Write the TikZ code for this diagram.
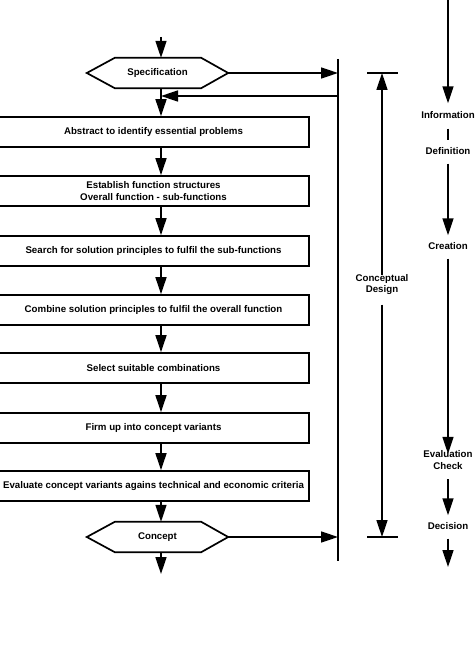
\documentclass[tikz,border=0pt]{standalone}
\usepackage{fontspec}
\setmainfont{Liberation Sans}
\usetikzlibrary{arrows.meta}
\begin{document}
\begin{tikzpicture}[x=1pt,y=-1pt,
  every node/.style={font=\fontsize{9.7}{11.5}\selectfont\bfseries},
  ln/.style={line width=1.6pt},
  arr/.style={ln,-{Triangle[length=17pt,width=11pt]}},
  stepbox/.style={draw,line width=1.7pt,minimum width=311pt,minimum height=30pt,inner sep=0pt,align=center},
  hexbox/.style={minimum width=141pt,minimum height=30pt,inner sep=0pt},
  hexline/.style={line width=1.7pt,line join=miter},
  lab/.style={inner xsep=2pt,inner ysep=7pt,align=center,text height=7pt,text depth=2pt}]
\clip (0,0) rectangle (474,652);
\fill[white] (0,0) rectangle (474,652);
% left column
\coordinate (in) at (161,37);
\node[hexbox] (spec) at (157.5,73) {Specification};
\draw[hexline] (spec.west) -- ([xshift=28pt]spec.north west) -- ([xshift=-27pt]spec.north east) -- (spec.east) -- ([xshift=-27pt]spec.south east) -- ([xshift=28pt]spec.south west) -- cycle;
\node[stepbox] (b1) at (153.5,132) {Abstract to identify essential problems};
\node[stepbox] (b2) at (153.5,191) {Establish function structures\\Overall function - sub-functions};
\node[stepbox] (b3) at (153.5,251) {Search for solution principles to fulfil the sub-functions};
\node[stepbox] (b4) at (153.5,310) {Combine solution principles to fulfil the overall function};
\node[stepbox] (b5) at (153.5,368) {Select suitable combinations};
\node[stepbox] (b6) at (153.5,428) {Firm up into concept variants};
\node[stepbox] (b7) at (153.5,486) {Evaluate concept variants agains technical and economic criteria};
\node[hexbox] (conc) at (157.5,537) {Concept};
\draw[hexline] (conc.west) -- ([xshift=28pt]conc.north west) -- ([xshift=-27pt]conc.north east) -- (conc.east) -- ([xshift=-27pt]conc.south east) -- ([xshift=28pt]conc.south west) -- cycle;
\coordinate (out) at (161,574);
\draw[arr] (in) -- (in |- spec.north);
\draw[arr] (spec.south -| in) -- (b1.north -| in);
\draw[arr] (b1.south -| in) -- (b2.north -| in);
\draw[arr] (b2.south -| in) -- (b3.north -| in);
\draw[arr] (b3.south -| in) -- (b4.north -| in);
\draw[arr] (b4.south -| in) -- (b5.north -| in);
\draw[arr] (b5.south -| in) -- (b6.north -| in);
\draw[arr] (b6.south -| in) -- (b7.north -| in);
\draw[arr] (b7.south -| in) -- (conc.north -| in);
\draw[arr] (conc.south -| in) -- (out);
% vertical bar
\coordinate (vt) at (338,59);
\coordinate (vb) at (338,561);
\draw[ln] (vt) -- (vb);
\draw[arr] (spec.east) -- (spec.east -| vt);
\draw[arr] (conc.east) -- (conc.east -| vt);
\coordinate (fb) at (338,96);
\draw[arr] (fb) -- (fb -| in);
% middle column
\coordinate (tl) at (367,73);
\coordinate (tr) at (398,73);
\coordinate (bl) at (367,537);
\coordinate (br) at (398,537);
\coordinate (tm) at (382,73);
\coordinate (bm) at (382,537);
\draw[ln] (tl) -- (tr);
\draw[ln] (bl) -- (br);
\node[lab,inner ysep=10pt] (cd) at (382,290) {Conceptual\\Design};
\draw[arr] (cd.north) -- (tm);
\draw[arr] (cd.south) -- (bm);
% right column
\coordinate (rtop) at (448,-2);
\node[lab,inner ysep=8pt] (info) at (448,116) {Information};
\node[lab] (def) at (448,152) {Definition};
\node[lab] (crea) at (448,247) {Creation};
\node[lab,inner ysep=8pt] (eval) at (448,466.5) {Evaluation\\Check};
\node[lab] (dec) at (448,527) {Decision};
\coordinate (rout) at (448,567);
\draw[arr] (rtop) -- (info.north);
\draw[ln] (info.south) -- (def.north);
\draw[arr] (def.south) -- (crea.north);
\draw[arr] (crea.south) -- (eval.north);
\draw[arr] (eval.south) -- (dec.north);
\draw[arr] (dec.south) -- (rout);
\end{tikzpicture}
\end{document}
